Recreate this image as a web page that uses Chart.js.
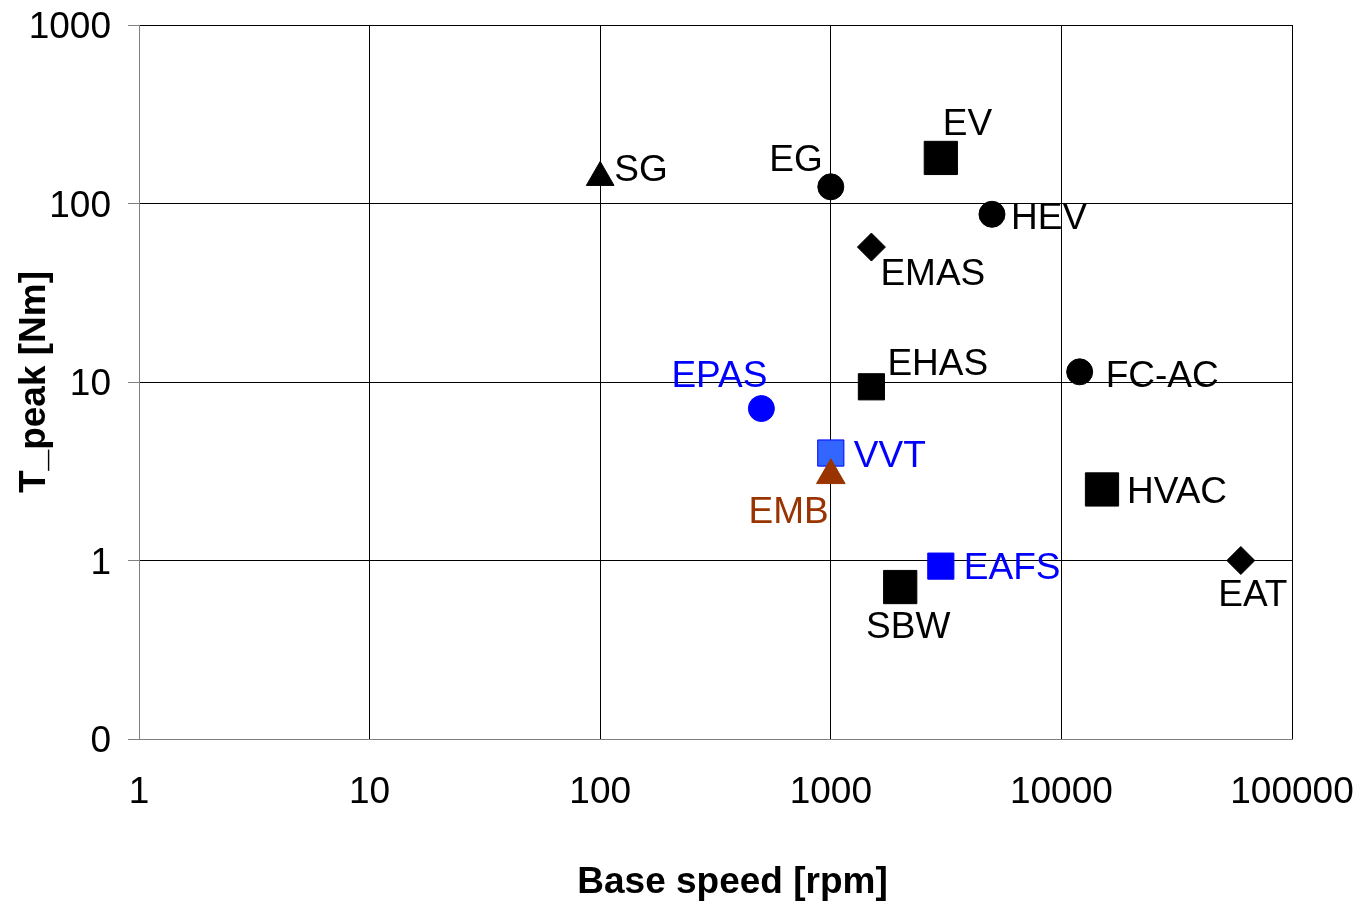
<!DOCTYPE html>
<html>
<head>
<meta charset="utf-8">
<script src="https://cdn.jsdelivr.net/npm/chart.js@4.4.0/dist/chart.umd.min.js"></script>
<style>
  body { margin: 0; background: #fff; }
  #wrap { width: 1358px; height: 903px; }
</style>
</head>
<body>
<div id="wrap"><canvas id="motorChart" width="1358" height="903"></canvas></div>
<script>
// applications, base speed [rpm], peak torque [Nm]
var names  = ['SG', 'EG', 'EV', 'HEV', 'EMAS', 'EHAS', 'FC-AC', 'EPAS', 'VVT', 'EMB', 'HVAC', 'EAFS', 'SBW', 'EAT'];
var speeds = [100, 1000, 3000, 5000, 1500, 1500, 12000, 500, 1000, 1000, 15000, 3000, 2000, 60000];
var torque = [140, 124, 180, 87, 57, 9.4, 11.4, 7.1, 4.0, 3.0, 2.5, 0.93, 0.71, 1.0];

var xTicks = [1, 10, 100, 1000, 10000, 100000];
var xTickLabels = ['1', '10', '100', '1000', '10000', '100000'];
var yTicks = [0.1, 1, 10, 100, 1000];
var yTickLabels = ['0', '1', '10', '100', '1000'];
var xTitle = 'Base speed [rpm]';
var yTitle = 'T_peak [Nm]';

// marker look per point
var shapes = ['triangle', 'circle', 'rect', 'circle', 'rectRot', 'rect', 'circle', 'circle', 'rect', 'triangle', 'rect', 'rect', 'rect', 'rectRot'];
var radii  = [16, 13, 23.5, 13, 14, 18.5, 13, 13, 18.5, 16.5, 23.5, 18.5, 23.5, 14];
var fills  = ['#000', '#000', '#000', '#000', '#000', '#000', '#000', '#0000ff', '#3366ff', '#993300', '#000', '#0000ff', '#000', '#000'];
var edges  = ['#000', '#000', '#000', '#000', '#000', '#000', '#000', '#0000ff', '#0000ff', '#993300', '#000', '#0000ff', '#000', '#000'];
var textColors = ['#000', '#000', '#000', '#000', '#000', '#000', '#000', '#0000ff', '#0000ff', '#993300', '#000', '#0000ff', '#000', '#000'];

// label placement: [dx, dy, align] relative to the marker
var labelPlacement = [
    [14, -7, 'left'], [-8, -26, 'right'], [2, -33, 'left'], [19, 5, 'left'],
    [9, 28, 'left'], [16, -22, 'left'], [26, 5, 'left'], [6, -32, 'right'],
    [23, 4, 'left'], [-2, 37, 'right'], [25, 3, 'left'], [23, 3, 'left'],
    [8, 41, 'center'], [12, 35, 'center']
];

var FONT = '"Liberation Sans", Arial, sans-serif';
var FONT_SIZE = 37;

var pointLabels = {
    id: 'pointLabels',
    afterDatasetsDraw(chart) {
        const ctx = chart.ctx;
        const meta = chart.getDatasetMeta(0);
        ctx.save();
        ctx.font = FONT_SIZE + 'px ' + FONT;
        ctx.textBaseline = 'middle';
        meta.data.forEach((pt, i) => {
            const p = labelPlacement[i];
            ctx.fillStyle = textColors[i];
            ctx.textAlign = p[2];
            ctx.fillText(names[i], pt.x + p[0], pt.y + p[1]);
        });
        ctx.restore();
    }
};

// x axis title sits a little right of the plot centre in the original
var xAxisTitle = {
    id: 'xAxisTitle',
    afterDraw(chart) {
        const ctx = chart.ctx;
        const area = chart.chartArea;
        ctx.save();
        ctx.font = 'bold ' + FONT_SIZE + 'px ' + FONT;
        ctx.fillStyle = '#000';
        ctx.textAlign = 'center';
        ctx.textBaseline = 'middle';
        ctx.fillText(xTitle, (area.left + area.right) / 2 + 17, chart.height - 20);
        ctx.restore();
    }
};

var points = speeds.map((s, i) => ({ x: s, y: torque[i] }));

new Chart(document.getElementById('motorChart'), {
    type: 'scatter',
    data: {
        datasets: [{
            label: yTitle,
            data: points,
            pointStyle: shapes,
            pointRadius: radii,
            pointHoverRadius: radii,
            backgroundColor: fills,
            borderColor: edges,
            borderWidth: 1
        }]
    },
    options: {
        responsive: false,
        animation: false,
        layout: { padding: { top: 25, right: 66, left: 0, bottom: 0 } },
        plugins: {
            legend: { display: false },
            tooltip: { enabled: false }
        },
        scales: {
            x: {
                type: 'logarithmic',
                min: 1,
                max: 100000,
                afterBuildTicks: scale => { scale.ticks = xTicks.map(v => ({ value: v })); },
                afterFit: scale => {
                    scale.height = 164;
                    scale.paddingLeft = 0;
                    scale.paddingRight = 0;
                },
                ticks: {
                    autoSkip: false,
                    maxRotation: 0,
                    padding: 32,
                    color: '#000',
                    font: { family: FONT, size: FONT_SIZE },
                    callback: (v, i) => xTickLabels[i]
                },
                grid: {
                    drawTicks: false,
                    color: ctx => ctx.index === 0 ? '#808080' : '#000',
                    lineWidth: 1
                },
                border: { color: '#808080', width: 1 },
                title: { display: false }
            },
            y: {
                type: 'logarithmic',
                min: 0.1,
                max: 1000,
                afterBuildTicks: scale => { scale.ticks = yTicks.map(v => ({ value: v })); },
                afterFit: scale => {
                    scale.width = 139;
                    scale.paddingTop = 0;
                    scale.paddingBottom = 0;
                },
                ticks: {
                    autoSkip: false,
                    padding: 17,
                    labelOffset: 3,
                    color: '#000',
                    font: { family: FONT, size: FONT_SIZE },
                    callback: (v, i) => yTickLabels[i]
                },
                grid: {
                    tickLength: 11,
                    tickColor: '#808080',
                    color: ctx => ctx.index === 0 ? '#808080' : '#000',
                    lineWidth: 1
                },
                border: { color: '#808080', width: 1 },
                title: {
                    display: true,
                    text: yTitle,
                    color: '#000',
                    padding: { top: 13, bottom: 0 },
                    font: { family: FONT, size: FONT_SIZE, weight: 'bold' }
                }
            }
        }
    },
    plugins: [pointLabels, xAxisTitle]
});
</script>
</body>
</html>
